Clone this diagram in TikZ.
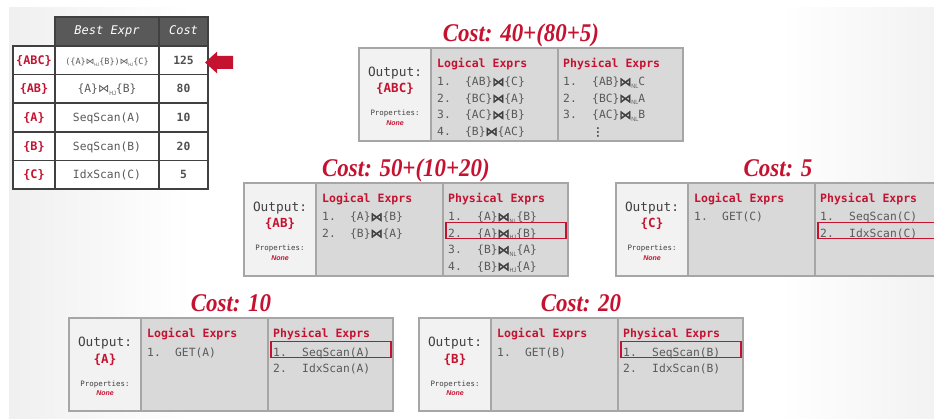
\documentclass[tikz,border=0pt]{standalone}
\usepackage{graphicx}
\usepackage{fontspec}
\setmonofont{DejaVu Sans Mono}
\newfontfamily\costfont{Liberation Serif}
\newfontfamily\tiefont[FakeBold=3]{DejaVu Sans}
\newfontfamily\tiethin{DejaVu Sans}
\newfontfamily\subfont{Liberation Sans}
\usetikzlibrary{calc}

\definecolor{dbred}{RGB}{196,18,48}
\definecolor{cellgray}{RGB}{217,217,217}
\definecolor{outgray}{RGB}{242,242,242}
\definecolor{framegray}{RGB}{166,166,166}
\definecolor{itemgray}{RGB}{89,89,89}
\definecolor{inkgray}{RGB}{64,64,64}
\definecolor{headgray}{RGB}{89,89,89}
\definecolor{costgray}{RGB}{80,80,80}

% join symbols: bold bowtie with an optional algorithm tag, and a thin one for the table
\newcommand{\bt}[1]{{\tiefont\color{inkgray}\fontsize{12}{13}\selectfont ⋈}\ifx\relax#1\relax\else\raisebox{-0.2em}{\subfont\scalebox{0.48}[0.55]{#1}}\fi}
\newcommand{\btthin}[1]{{\tiethin ⋈}\raisebox{-0.2em}{\subfont\scalebox{0.48}[0.55]{#1}}}

% one memo group: output cell, logical and physical expression cells, cost above
\newcommand{\memogroup}[4]{%
  \node[outcell] (#1-out) at #2 {};
  \node[exprcell, minimum width=127pt] (#1-log) at ($(#1-out.north west)+(72,0)$) {};
  \node[exprcell, minimum width=125pt] (#1-phy) at ($(#1-log.north west)+(127,0)$) {};
  \node[costtitle] (#1-cost) at ($(#1-out.north west)+(162,-6)$) {\scalebox{0.9}[1]{Cost: #3}};
  \node[outlabel] (#1-olbl) at ($(#1-out.north west)+(36,28.7)$) {Output:};
  \node[outset] (#1-oset) at ($(#1-out.north west)+(36,45)$) {\{#4\}};
  \node[proplabel] (#1-plbl) at ($(#1-out.north west)+(36,68)$) {Properties:};
  \node[propvalue] (#1-pval) at ($(#1-out.north west)+(36,77.5)$) {None};
  \node[listhead] (#1-lhd) at ($(#1-log.north west)+(6,20)$) {Logical Exprs};
  \node[listhead] (#1-phd) at ($(#1-phy.north west)+(5,20)$) {Physical Exprs};
}
\newcommand{\logline}[3]{\node[listitem] (#1-l#2) at ($(#1-log.north west)+(6,{21.5+16.5*#2})$) {\makebox[28pt][l]{#2.}#3};}
\newcommand{\phyline}[3]{\node[listitem] (#1-p#2) at ($(#1-phy.north west)+(5,{21.5+16.5*#2})$) {\makebox[29pt][l]{#2.}#3};}
\newcommand{\pickline}[2]{\node[pick] (#1-pick) at ($(#1-phy.north west)+(3,{7.5+16*#2})$) {};}

\begin{document}
\begin{tikzpicture}[x=1pt, y=-1pt,
  outcell/.style={draw=framegray, line width=2pt, fill=outgray, anchor=north west,
    minimum width=72pt, minimum height=93pt, inner sep=0pt, outer sep=0pt},
  exprcell/.style={outcell, fill=cellgray},
  costtitle/.style={anchor=base, inner sep=0pt, text=dbred,
    font=\costfont\bfseries\itshape\fontsize{25.5}{28}\selectfont},
  outlabel/.style={anchor=base, inner sep=0pt, text=inkgray, font=\ttfamily\fontsize{12.8}{14}\selectfont},
  outset/.style={anchor=base, inner sep=0pt, text=dbred, font=\ttfamily\bfseries\fontsize{12.5}{14}\selectfont},
  proplabel/.style={anchor=base, inner sep=0pt, text=inkgray, font=\ttfamily\fontsize{7.4}{8}\selectfont},
  propvalue/.style={anchor=base, inner sep=0pt, text=dbred, font=\subfont\bfseries\itshape\fontsize{7}{8}\selectfont},
  listhead/.style={anchor=base west, inner sep=0pt, text=dbred, font=\ttfamily\bfseries\fontsize{11.5}{13}\selectfont},
  listitem/.style={anchor=base west, inner sep=0pt, text=itemgray, font=\ttfamily\fontsize{11.3}{13}\selectfont},
  pick/.style={draw=dbred, line width=1.5pt, anchor=north west, minimum width=120pt,
    minimum height=16pt, inner sep=0pt, outer sep=0pt},
  thead/.style={draw=inkgray, fill=headgray, line width=1.6pt, anchor=north west, minimum height=29pt,
    inner sep=0pt, outer sep=0pt, text=white, text height=6pt, text depth=0pt,
    font=\ttfamily\itshape\fontsize{12}{14}\selectfont},
  tcell/.style={draw=inkgray, fill=white, line width=1.6pt, anchor=north west, minimum height=28.6pt,
    inner sep=0pt, outer sep=0pt, text=itemgray, text height=8.2pt, text depth=0pt,
    font=\ttfamily\fontsize{11.3}{13}\selectfont},
  tkey/.style={tcell, minimum width=42pt, text=dbred, font=\ttfamily\bfseries\fontsize{11.8}{13}\selectfont},
  texpr/.style={tcell, minimum width=104pt},
  tcost/.style={tcell, minimum width=49pt, text=costgray, font=\ttfamily\bfseries\fontsize{11.3}{13}\selectfont}]
\useasboundingbox (0,0) rectangle (934,419);
\clip (0,0) rectangle (934,419);

% page background with soft grey edges
\fill[white] (0,0) rectangle (934,419);
\shade[left color=black!6, right color=white] (9,8) rectangle (190,419);
\shade[left color=white, right color=black!5] (780,8) rectangle (934,419);

% best-expression table
\node[thead, minimum width=104pt] (t-best) at (55,17) {Best Expr};
\node[thead, minimum width=49pt] (t-cost) at (159,17) {Cost};

\node[tkey] (t-abc) at (13,46) {\{ABC\}};
\node[texpr] (t-abc-e) at (55,46) {{\fontsize{8.5}{9}\selectfont(\{A\}\btthin{HJ}\{B\})\btthin{HJ}\{C\}}};
\node[tcost] (t-abc-c) at (159,46) {125};

\node[tkey] (t-ab) at (13,74.6) {\{AB\}};
\node[texpr] (t-ab-e) at (55,74.6) {\{A\}\btthin{HJ}\{B\}};
\node[tcost] (t-ab-c) at (159,74.6) {80};

\node[tkey] (t-a) at (13,103.2) {\{A\}};
\node[texpr] (t-a-e) at (55,103.2) {SeqScan(A)};
\node[tcost] (t-a-c) at (159,103.2) {10};

\node[tkey] (t-b) at (13,131.8) {\{B\}};
\node[texpr] (t-b-e) at (55,131.8) {SeqScan(B)};
\node[tcost] (t-b-c) at (159,131.8) {20};

\node[tkey] (t-c) at (13,160.4) {\{C\}};
\node[texpr] (t-c-e) at (55,160.4) {IdxScan(C)};
\node[tcost] (t-c-c) at (159,160.4) {5};

% pointer to the chosen plan
\fill[dbred] (205,62.5) -- (217,51.7) -- (217,56) -- (233,56) -- (233,69) -- (217,69) -- (217,73.3) -- cycle;

% group {ABC}
\memogroup{abc}{(359,48)}{40+(80+5)}{ABC}
\logline{abc}{1}{\{AB\}\bt{}\{C\}}
\logline{abc}{2}{\{BC\}\bt{}\{A\}}
\logline{abc}{3}{\{AC\}\bt{}\{B\}}
\logline{abc}{4}{\{B\}\bt{}\{AC\}}
\phyline{abc}{1}{\{AB\}\bt{NL}C}
\phyline{abc}{2}{\{BC\}\bt{NL}A}
\phyline{abc}{3}{\{AC\}\bt{NL}B}
\node[listitem] (abc-more) at ($(abc-phy.north west)+(34,87.5)$) {{\tiefont\color{inkgray} ⋮}};

% group {AB}
\memogroup{ab}{(244,183)}{50+(10+20)}{AB}
\logline{ab}{1}{\{A\}\bt{}\{B\}}
\logline{ab}{2}{\{B\}\bt{}\{A\}}
\phyline{ab}{1}{\{A\}\bt{NL}\{B\}}
\phyline{ab}{2}{\{A\}\bt{HJ}\{B\}}
\phyline{ab}{3}{\{B\}\bt{NL}\{A\}}
\phyline{ab}{4}{\{B\}\bt{HJ}\{A\}}
\pickline{ab}{2}

% group {C}
\memogroup{c}{(616,183)}{5}{C}
\logline{c}{1}{GET(C)}
\phyline{c}{1}{SeqScan(C)}
\phyline{c}{2}{IdxScan(C)}
\pickline{c}{2}

% group {A}
\memogroup{a}{(69,318)}{10}{A}
\logline{a}{1}{GET(A)}
\phyline{a}{1}{SeqScan(A)}
\phyline{a}{2}{IdxScan(A)}
\pickline{a}{1}

% group {B}
\memogroup{b}{(419,318)}{20}{B}
\logline{b}{1}{GET(B)}
\phyline{b}{1}{SeqScan(B)}
\phyline{b}{2}{IdxScan(B)}
\pickline{b}{1}
\end{tikzpicture}
\end{document}
